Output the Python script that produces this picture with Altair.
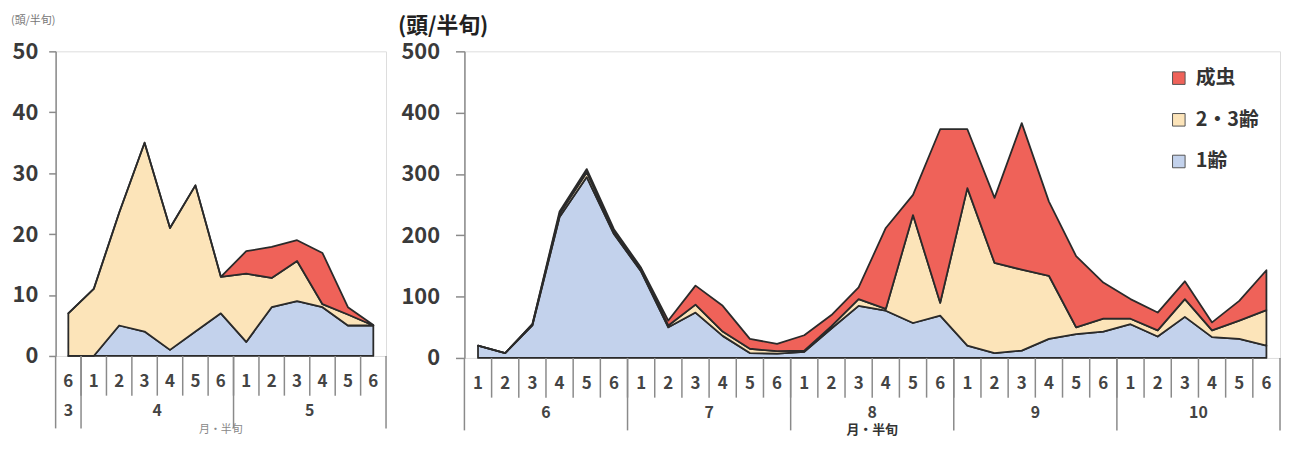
import altair as alt
import pandas as pd

FONT = "Noto Sans CJK JP"
SERIES = ["成虫", "2・3齢", "1齢"]
COLORS = ["#ef6259", "#fce4b9", "#c3d2ec"]
STACK_ORDER = {"1齢": 0, "2・3齢": 1, "成虫": 2}
UNIT_TITLE = "(頭/半旬)"
X_TITLE = "月・半旬"

# ---- left panel (March 6th pentad - May) ----
L_HALF = [6, 1, 2, 3, 4, 5, 6, 1, 2, 3, 4, 5, 6]
L_MONTHS = ["3", "4", "5"]
L_MONTH_LEN = [1, 6, 6]
L_INSTAR1 = [0, 0, 5, 4, 1, 4, 7, 2.3, 8, 9, 8, 5, 5]
L_INSTAR23 = [7, 11, 18.5, 31, 20, 24, 6, 11.2, 4.8, 6.6, 0.5, 1.8, 0]
L_ADULT = [0, 0, 0, 0, 0, 0, 0, 3.7, 5.1, 3.4, 8.4, 1.2, 0.1]

# ---- right panel (June - October) ----
R_HALF = [1, 2, 3, 4, 5, 6] * 5
R_MONTHS = ["6", "7", "8", "9", "10"]
R_MONTH_LEN = [6, 6, 6, 6, 6]
R_INSTAR1 = [20, 8, 53, 230, 295, 202, 141, 50, 74, 36, 8, 7, 10, 48, 85,
             77, 57, 69, 20, 8, 12, 31, 39, 43, 55, 35, 67, 34, 31, 20]
R_INSTAR23 = [0, 0, 2, 5, 8, 5, 4, 3, 13, 7, 7, 4, 2, 4, 11,
              3, 176, 21, 257, 147, 132, 103, 11, 21, 9, 10, 29, 11, 30, 58]
R_ADULT = [0, 0, 0, 4, 5, 3, 2, 8, 31, 42, 16, 12, 25, 18, 19,
           132, 33, 283, 96, 106, 239, 121, 116, 59, 32, 29, 29, 13, 32, 65]

AXIS_GRAY = "#8a8a8a"
TEXT_DARK = "#3a3a3a"


def panel(half, months, month_len, s1, s23, sad, ymax, ystep, w, h,
          legend, label_pad, tick_size,
          title_style, title_xy,
          xtitle_style, xtitle_dy):
    n = len(half)
    rows = []
    for i in range(n):
        for s, v in (("1齢", s1[i]), ("2・3齢", s23[i]), ("成虫", sad[i])):
            rows.append({"p": i + 0.5, "series": s, "value": v,
                         "ord": STACK_ORDER[s]})
    df = pd.DataFrame(rows)
    xs = alt.Scale(domain=[0, n], nice=False, zero=False)

    area = alt.Chart(df).mark_area(
        stroke="#2a2a2a", strokeWidth=1.8, strokeJoin="round", opacity=1
    ).encode(
        x=alt.X("p:Q", scale=xs, axis=None),
        y=alt.Y("value:Q", stack="zero",
                scale=alt.Scale(domain=[0, ymax], nice=False),
                axis=alt.Axis(values=list(range(0, ymax + 1, ystep)), title=None,
                              grid=False, labelFont=FONT, labelFontSize=22,
                              labelFontWeight="bold", labelColor=TEXT_DARK,
                              labelPadding=label_pad, tickSize=tick_size,
                              tickColor=AXIS_GRAY, tickWidth=1.5,
                              domainColor=AXIS_GRAY, domainWidth=1.5)),
        color=alt.Color("series:N", scale=alt.Scale(domain=SERIES, range=COLORS),
                        legend=legend),
        order=alt.Order("ord:Q"),
    )

    # separators under the axis
    short_df = pd.DataFrame({"p": list(range(1, n))})
    bounds = [0]
    for m in month_len:
        bounds.append(bounds[-1] + m)
    long_df = pd.DataFrame({"p": bounds})
    short_rules = alt.Chart(short_df).mark_rule(
        color=AXIS_GRAY, strokeWidth=1.5).encode(
        x=alt.X("p:Q", scale=xs, axis=None),
        y=alt.value(h), y2=alt.value(h + 40))
    long_rules = alt.Chart(long_df).mark_rule(
        color=AXIS_GRAY, strokeWidth=1.5).encode(
        x=alt.X("p:Q", scale=xs, axis=None),
        y=alt.value(h), y2=alt.value(h + 73))

    half_df = pd.DataFrame({"p": [i + 0.5 for i in range(n)],
                            "t": [str(v) for v in half]})
    half_text = alt.Chart(half_df).mark_text(
        font=FONT, fontSize=17, fontWeight="bold", color="#444",
        baseline="middle").encode(
        x=alt.X("p:Q", scale=xs, axis=None), y=alt.value(h + 26),
        text="t:N")

    centers = [(bounds[k] + bounds[k + 1]) / 2 for k in range(len(months))]
    month_df = pd.DataFrame({"p": centers, "t": months})
    month_text = alt.Chart(month_df).mark_text(
        font=FONT, fontSize=16, fontWeight="bold", color="#444",
        baseline="middle").encode(
        x=alt.X("p:Q", scale=xs, axis=None), y=alt.value(h + 56),
        text="t:N")

    xt_df = pd.DataFrame({"p": [n / 2], "t": [X_TITLE]})
    xtitle = alt.Chart(xt_df).mark_text(
        font=FONT, baseline="middle", **xtitle_style).encode(
        x=alt.X("p:Q", scale=xs, axis=None), y=alt.value(h + xtitle_dy),
        text="t:N")

    tt_df = pd.DataFrame({"t": [UNIT_TITLE]})
    ytitle = alt.Chart(tt_df).mark_text(
        font=FONT, baseline="middle", align="left", **title_style).encode(
        x=alt.value(title_xy[0]), y=alt.value(title_xy[1]), text="t:N")

    return alt.layer(area, short_rules, long_rules, half_text, month_text,
                     xtitle, ytitle).properties(width=w, height=h)


left = panel(
    L_HALF, L_MONTHS, L_MONTH_LEN, L_INSTAR1, L_INSTAR23, L_ADULT,
    50, 10, 333, 307,
    None, 11, 7,
    {"fontSize": 11, "color": "#777", "fontWeight": "normal"}, (-45, -31),
    {"fontSize": 11, "color": "#888", "fontWeight": "normal"}, 75)

right = panel(
    R_HALF, R_MONTHS, R_MONTH_LEN, R_INSTAR1, R_INSTAR23, R_ADULT,
    500, 100, 822, 309,
    alt.Legend(title=None, orient="none", legendX=710, legendY=17,
               symbolType="square", symbolSize=160, symbolStrokeColor="#555",
               symbolStrokeWidth=1, labelFont=FONT, labelFontSize=20,
               labelFontWeight="bold", labelColor="#333", rowPadding=22,
               labelOffset=7),
    16, 9,
    {"fontSize": 22, "color": "#222", "fontWeight": "bold"}, (-67, -25),
    {"fontSize": 13, "color": "#333", "fontWeight": "bold"}, 73)

chart = alt.hconcat(left, right, spacing=9).resolve_scale(
    color="independent", y="independent", x="independent"
).properties(
    padding={"left": 2, "top": 4, "right": 0, "bottom": 0}
).configure_view(
    stroke=AXIS_GRAY, strokeWidth=1.5
).configure(background="white")

chart.save("out.html", embed_options={"renderer": "svg", "actions": False})
